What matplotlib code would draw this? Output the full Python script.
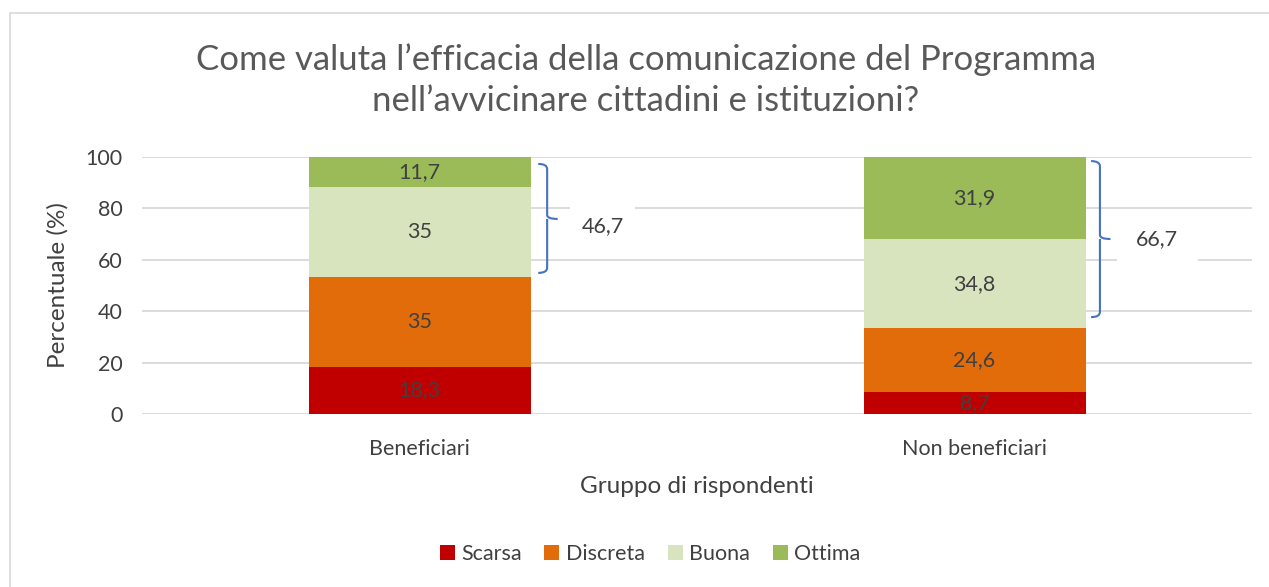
import numpy as np
import matplotlib
matplotlib.use("Agg")
import matplotlib.pyplot as plt
from matplotlib.path import Path
from matplotlib.patches import PathPatch, Rectangle

plt.rcParams['font.family'] = ['Lato', 'DejaVu Sans']

gruppi = ["Beneficiari", "Non beneficiari"]
livelli = ["Scarsa", "Discreta", "Buona", "Ottima"]
scarsa = [18.3, 8.7]
discreta = [35, 24.6]
buona = [35, 34.8]
ottima = [11.7, 31.9]
positivi = ["46,7", "66,7"]

colori = ["#C00000", "#E36C0A", "#D7E4BD", "#9BBB59"]
testo = "#404040"

fig = plt.figure(figsize=(12.69, 5.87), dpi=100)
fig.patches.append(Rectangle((10/1269, -0.1), 1.2, (587-13)/587 + 0.1, transform=fig.transFigure,
                             fill=False, edgecolor="#D9D9D9", linewidth=1.2))
ax = fig.add_axes([142/1269, (587-414)/587, 1110/1269, 257/587])

x = np.arange(len(gruppi))
serie = [scarsa, discreta, buona, ottima]
base = np.zeros(len(gruppi))
for nome, vals, col in zip(livelli, serie, colori):
    vals = np.array(vals, dtype=float)
    ax.bar(x, vals, 0.4, bottom=base, color=col, label=nome, zorder=2)
    for xi, b, v in zip(x, base, vals):
        ax.text(xi, b + v/2, ("%g" % v).replace(".", ","), ha="center", va="center",
                fontsize=15.5, color=testo, zorder=3)
    base += vals

ax.set_xlim(-0.5, 1.5)
ax.set_ylim(0, 100)
ax.set_yticks(range(0, 101, 20))
ax.yaxis.grid(True, color="#D9D9D9", linewidth=1.3, zorder=0)
ax.set_axisbelow(True)
for s in ax.spines.values():
    s.set_visible(False)
ax.tick_params(length=0, labelsize=15.5, labelcolor=testo, pad=14)
ax.set_xticks(x)
ax.set_xticklabels(gruppi)
ax.tick_params(axis="x", pad=18)
ax.set_ylabel("Percentuale (%)", fontsize=17.5, color=testo, labelpad=12)
ax.set_xlabel("Gruppo di rispondenti", fontsize=17.5, color=testo, labelpad=12)


def graffa(ax, xv, y0, y1, ym, w=0.016, t=0.019):
    verts = [(xv - w, y1), (xv, y1), (xv, y1 - 2), (xv, y1 - 2),
             (xv, ym + 1.5), (xv, ym), (xv + t, ym),
             (xv, ym), (xv, ym - 1.5), (xv, y0 + 2),
             (xv, y0 + 2), (xv, y0), (xv - w, y0)]
    codes = [Path.MOVETO, Path.CURVE3, Path.CURVE3, Path.LINETO,
             Path.LINETO, Path.CURVE3, Path.CURVE3,
             Path.MOVETO, Path.CURVE3, Path.CURVE3,
             Path.LINETO, Path.CURVE3, Path.CURVE3]
    ax.add_patch(PathPatch(Path(verts, codes), fill=False, edgecolor="#4472C4",
                           linewidth=1.5, zorder=4, clip_on=False))


graffa(ax, 0.23, 54.9, 97.3, 75.9)
graffa(ax, 1.226, 37.7, 98.4, 68.1)
ax.text(0.33, 73.2, positivi[0], ha="center", va="center", fontsize=15.5, color=testo, zorder=4,
        bbox=dict(facecolor="white", edgecolor="none", pad=8))
ax.text(1.329, 68.1, positivi[1], ha="center", va="center", fontsize=15.5, color=testo, zorder=4,
        bbox=dict(facecolor="white", edgecolor="none", boxstyle="square,pad=0.9"))

fig.text(646/1269, 1 - 80/587,
         "Come valuta l\u2019efficacia della comunicazione del Programma\nnell\u2019avvicinare cittadini e istituzioni?",
         ha="center", va="center", fontsize=25, color="#595959", linespacing=1.35)

fig.legend(loc="center", bbox_to_anchor=(650/1269, 1 - 554/587), ncol=4, frameon=False,
           fontsize=15.5, handlelength=0.7, handleheight=0.7, handletextpad=0.3,
           columnspacing=1.05, labelcolor=testo)

fig.savefig("out.png", dpi=100)
